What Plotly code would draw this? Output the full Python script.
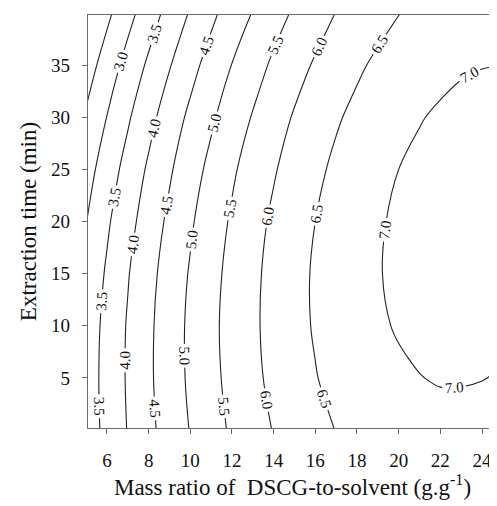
import plotly.graph_objects as go

# Mass ratio of DSCG-to-solvent (g/g) grid values
mass_ratio = [5, 6, 7, 8, 9, 10, 11, 12, 13, 14, 15, 16, 17, 18, 19, 20, 21, 22, 23, 24, 25]
# Extraction time (min) grid values
extraction_time = [0, 5, 10, 15, 20, 25, 30, 35, 40]

# Response values estimated from the contour picture; one row per mass ratio, one column per time
z_by_ratio = [
    [3.23, 3.25, 3.22, 3.13, 2.99, 2.80, 2.56, 2.26, 1.91],
    [3.64, 3.66, 3.64, 3.56, 3.43, 3.25, 3.01, 2.73, 2.39],
    [4.02, 4.05, 4.04, 3.97, 3.84, 3.67, 3.44, 3.17, 2.84],
    [4.38, 4.42, 4.41, 4.35, 4.23, 4.07, 3.85, 3.58, 3.26],
    [4.71, 4.76, 4.76, 4.71, 4.60, 4.44, 4.24, 3.97, 3.66],
    [5.02, 5.08, 5.09, 5.04, 4.94, 4.80, 4.60, 4.34, 4.04],
    [5.30, 5.37, 5.39, 5.35, 5.26, 5.12, 4.93, 4.69, 4.39],
    [5.57, 5.64, 5.67, 5.64, 5.56, 5.43, 5.24, 5.01, 4.72],
    [5.80, 5.89, 5.92, 5.90, 5.83, 5.71, 5.53, 5.30, 5.02],
    [6.02, 6.11, 6.15, 6.14, 6.08, 5.96, 5.80, 5.58, 5.31],
    [6.21, 6.31, 6.36, 6.36, 6.30, 6.19, 6.04, 5.83, 5.56],
    [6.37, 6.48, 6.54, 6.55, 6.50, 6.40, 6.25, 6.05, 5.80],
    [6.51, 6.63, 6.70, 6.71, 6.68, 6.59, 6.45, 6.25, 6.01],
    [6.63, 6.76, 6.83, 6.86, 6.83, 6.75, 6.61, 6.43, 6.19],
    [6.73, 6.86, 6.95, 6.98, 6.96, 6.88, 6.76, 6.58, 6.35],
    [6.80, 6.94, 7.03, 7.07, 7.06, 7.00, 6.88, 6.71, 6.49],
    [6.84, 6.99, 7.10, 7.14, 7.14, 7.08, 6.98, 6.82, 6.60],
    [6.86, 7.03, 7.13, 7.19, 7.20, 7.15, 7.05, 6.90, 6.69],
    [6.86, 7.03, 7.15, 7.21, 7.23, 7.19, 7.10, 6.96, 6.76],
    [6.84, 7.01, 7.14, 7.21, 7.24, 7.21, 7.12, 6.99, 6.80],
    [6.79, 6.97, 7.11, 7.19, 7.22, 7.20, 7.12, 7.00, 6.82],
]

# levels every 0.5 from 2.5; the list runs on past the data maximum (those levels
# draw nothing) only so that plotly spaces the inline labels more densely
contour_levels = dict(start=2.5, end=82.5, size=0.5)
x_ticks = [6, 8, 10, 12, 14, 16, 18, 20, 22, 24]
y_ticks = [5, 10, 15, 20, 25, 30, 35]

# contour wants z[row=y][col=x]
z_grid = [list(col) for col in zip(*z_by_ratio)]

FONT = "Liberation Serif, Times New Roman, serif"
AXIS_COLOR = "#6a6a6a"
PAGE_MARGIN = 8  # default <body> margin of the written page

fig = go.Figure(
    go.Contour(
        x=mass_ratio,
        y=extraction_time,
        z=z_grid,
        contours=dict(
            start=contour_levels["start"],
            end=contour_levels["end"],
            size=contour_levels["size"],
            coloring="lines",
            showlabels=True,
            labelformat=".1f",
            labelfont=dict(family="Liberation Serif", size=15, color="#111"),
        ),
        colorscale=[[0, "#222"], [1, "#222"]],
        showscale=False,
        line=dict(width=1.1, smoothing=1.0),
        hoverinfo="skip",
    )
)

fig.update_layout(
    width=497 - PAGE_MARGIN,
    height=506 - PAGE_MARGIN,
    margin=dict(l=88 - PAGE_MARGIN, r=0, t=15 - PAGE_MARGIN, b=78),
    paper_bgcolor="white",
    plot_bgcolor="white",
    font=dict(family=FONT, color="#111"),
    showlegend=False,
)

fig.update_xaxes(
    range=[5.09, 24.72],
    tickvals=x_ticks,
    ticks="outside",
    ticklen=5,
    tickcolor=AXIS_COLOR,
    ticklabelstandoff=10,
    tickfont=dict(family=FONT, size=19, color="#111"),
    showline=True,
    linecolor=AXIS_COLOR,
    linewidth=1.2,
    mirror=True,
    showgrid=False,
    zeroline=False,
    automargin=False,
    title=dict(
        text="Mass ratio of\u00a0 DSCG-to-solvent (g.g<sup>-1</sup>)",
        font=dict(family=FONT, size=23, color="#111"),
        standoff=8,
    ),
)

fig.update_yaxes(
    range=[0.2, 39.8],
    tickvals=y_ticks,
    ticks="outside",
    ticklen=5,
    tickcolor=AXIS_COLOR,
    ticklabelstandoff=8,
    tickfont=dict(family=FONT, size=19, color="#111"),
    showline=True,
    linecolor=AXIS_COLOR,
    linewidth=1.2,
    mirror=False,
    showgrid=False,
    zeroline=False,
    automargin=False,
    title=dict(
        text="Extraction time (min)",
        font=dict(family=FONT, size=23, color="#111"),
        standoff=8,
    ),
)

fig.write_html("out.html")
